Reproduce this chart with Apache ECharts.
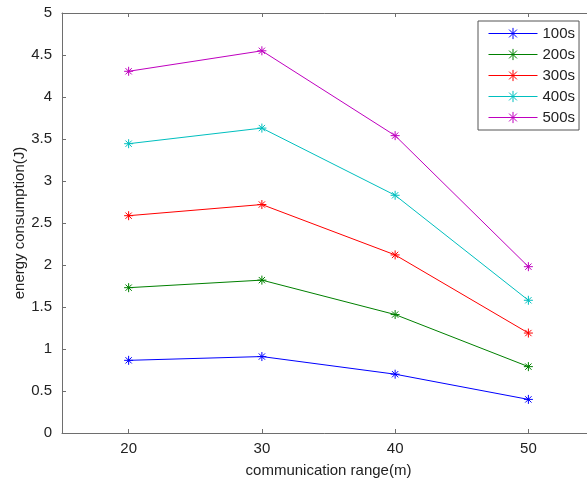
<!DOCTYPE html>
<html>
<head>
<meta charset="utf-8">
<script src="https://cdn.jsdelivr.net/npm/echarts@6/dist/echarts.min.js"></script>
<style>html,body{margin:0;padding:0;background:#fff}#c{width:587px;height:481px}</style>
</head>
<body>
<div id="c"></div>
<script>
const ranges = [20, 30, 40, 50];
const seriesNames = ['100s', '200s', '300s', '400s', '500s'];
const s100 = [0.865, 0.91, 0.70, 0.40];
const s200 = [1.73, 1.82, 1.41, 0.79];
const s300 = [2.587, 2.72, 2.12, 1.19];
const s400 = [3.444, 3.63, 2.83, 1.58];
const s500 = [4.306, 4.55, 3.54, 1.98];
const yTicks = [0, 0.5, 1, 1.5, 2, 2.5, 3, 3.5, 4, 4.5, 5];
const colors = ['#0000ff', '#008000', '#ff0000', '#00bfbf', '#bf00bf'];

const values = [s100, s200, s300, s400, s500];
const star = 'path://M0,5L10,5M5,0L5,10M1.5,1.5L8.5,8.5M8.5,1.5L1.5,8.5';
const axisColor = '#6e6e6e';
const font = 'Liberation Sans, Arial, sans-serif';

const chart = echarts.init(document.getElementById('c'));
chart.setOption({
  animation: false,
  backgroundColor: '#fff',
  grid: { left: 62, top: 13, height: 420, width: 533, show: false, outerBoundsMode: 'none', containLabel: false },
  legend: {
    orient: 'vertical', left: 478, top: 21,
    padding: [5, 4, 5, 10], itemGap: 6, itemWidth: 49, itemHeight: 14,
    borderColor: '#555', borderWidth: 1, backgroundColor: '#fff',
    textStyle: { fontSize: 15, fontFamily: font, color: '#222' },
    data: seriesNames.map((n, i) => ({
      name: n,
      lineStyle: { color: colors[i], width: 1 },
      itemStyle: { color: colors[i], borderColor: colors[i], borderWidth: 1 }
    }))
  },
  xAxis: [{
    type: 'value', min: 15, max: 55,
    name: 'communication range(m)', nameLocation: 'middle', nameGap: 30, nameMoveOverlap: false,
    nameTextStyle: { fontSize: 15, fontFamily: font, color: '#222' },
    axisLine: { show: true, lineStyle: { color: axisColor } },
    axisTick: { show: true, inside: true, length: 4, customValues: ranges, lineStyle: { color: axisColor } },
    axisLabel: { customValues: ranges, fontSize: 15, fontFamily: font, color: '#222', margin: 8 },
    splitLine: { show: false }
  }, {
    type: 'value', min: 15, max: 55, position: 'top',
    axisLine: { show: true, onZero: false, lineStyle: { color: axisColor } },
    axisTick: { show: true, inside: true, length: 4, customValues: ranges, lineStyle: { color: axisColor } },
    axisLabel: { show: false },
    splitLine: { show: false }
  }],
  yAxis: [{
    type: 'value', min: 0, max: 5, interval: 0.5,
    name: 'energy consumption(J)', nameLocation: 'middle', nameGap: 35, nameMoveOverlap: false,
    nameTextStyle: { fontSize: 15, fontFamily: font, color: '#222' },
    axisLine: { show: true, lineStyle: { color: axisColor } },
    axisTick: { show: true, inside: true, length: 4, lineStyle: { color: axisColor } },
    axisLabel: { fontSize: 15, fontFamily: font, color: '#222', margin: 10,
      formatter: v => yTicks.indexOf(v) >= 0 ? String(v) : '' },
    splitLine: { show: false }
  }],
  series: seriesNames.map((n, i) => ({
    name: n, type: 'line',
    data: ranges.map((x, j) => [x, values[i][j]]),
    symbol: star, symbolSize: 9, showSymbol: true,
    lineStyle: { color: colors[i], width: 1 },
    itemStyle: { color: colors[i], borderColor: colors[i], borderWidth: 1 }
  }))
});
</script>
</body>
</html>
